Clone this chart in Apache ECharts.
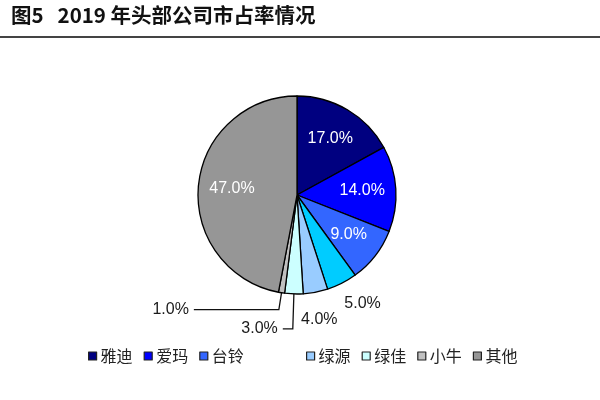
<!DOCTYPE html>
<html>
<head>
<meta charset="utf-8">
<script src="https://cdn.jsdelivr.net/npm/echarts@6/dist/echarts.min.js"></script>
<style>
  html, body { margin: 0; padding: 0; background: #fff; }
  #main { width: 600px; height: 400px; }
</style>
</head>
<body>
<div id="main"></div>
<script>
// 品牌 / 市占率(%)
var brands = ['雅迪', '爱玛', '台铃', '新日', '绿源', '绿佳', '小牛', '其他'];
var shares = [17, 14, 9, 5, 4, 3, 1, 47];
var colors = ['#000080', '#0000FF', '#3366FF', '#00CCFF', '#99CCFF', '#CCFFFF', '#C0C0C0', '#969696'];
var legendLeft = ['雅迪', '爱玛', '台铃'];
var legendRight = ['绿源', '绿佳', '小牛', '其他'];

var bigLimit = 9;  // 大于等于它的扇区标签放在里面
var center = ['297', '195'];
var R = 99;

// 小扇区外部标签的引线: [length, length2, 是否显示]
var lineLen = { '新日': [14, 0, false], '绿源': [24, 0, false], '绿佳': [35, 10, true], '小牛': [17, 85, true] };
// 外部标签的微调
var labelShift = { '新日': [-9, 8], '绿源': [-24, 4] };

var chart = echarts.init(document.getElementById('main'));

var pieData = [];
var labelData = [];
for (var i = 0; i < brands.length; i++) {
    var big = shares[i] >= bigLimit;
    var ll = lineLen[brands[i]] || [10, 0, false];
    pieData.push({
        name: brands[i],
        value: shares[i],
        itemStyle: { color: colors[i] },
        label: { show: !big },
        labelLine: { show: ll[2], length: ll[0], length2: ll[1] }
    });
    labelData.push({
        name: brands[i],
        value: shares[i],
        label: { show: big }
    });
}

var option = {
    backgroundColor: '#fff',
    animation: false,
    title: {
        text: '图5   2019 年头部公司市占率情况',
        left: 11,
        top: 5,
        padding: 0,
        textStyle: { fontFamily: 'Noto Sans CJK SC', fontWeight: 'bold', fontSize: 20.5, color: '#111' }
    },
    graphic: [{
        type: 'line',
        shape: { x1: 0, y1: 37, x2: 600, y2: 37 },
        style: { stroke: '#444', lineWidth: 2 }
    }],
    legend: [{
        data: legendLeft,
        left: 88, top: 348, padding: 0,
        icon: 'rect', itemWidth: 8, itemHeight: 8, itemGap: 11,
        itemStyle: { borderColor: '#222', borderWidth: 1.2 },
        textStyle: { fontFamily: 'Noto Sans CJK SC', fontSize: 16, color: '#222', padding: [0, 0, 0, -1] }
    }, {
        data: legendRight,
        left: 306, top: 348, padding: 0,
        icon: 'rect', itemWidth: 8, itemHeight: 8, itemGap: 11,
        itemStyle: { borderColor: '#222', borderWidth: 1.2 },
        textStyle: { fontFamily: 'Noto Sans CJK SC', fontSize: 16, color: '#222', padding: [0, 0, 0, -1] }
    }],
    series: [{
        type: 'pie',
        center: center,
        radius: R,
        startAngle: 90,
        clockwise: true,
        avoidLabelOverlap: false,
        itemStyle: { borderColor: '#000', borderWidth: 1.3 },
        label: {
            position: 'outside',
            formatter: function (p) { return p.value.toFixed(1) + '%'; },
            fontFamily: 'Liberation Sans', fontSize: 16, color: '#1a1a1a'
        },
        labelLine: { lineStyle: { color: '#111', width: 1.3 } },
        labelLayout: function (p) {
            var s = labelShift[brands[p.dataIndex]];
            if (s) return { dx: s[0], dy: s[1] };
            return {};
        },
        emphasis: { disabled: true },
        data: pieData
    }, {
        // 内部标签层
        type: 'pie',
        center: center,
        radius: R * 1.26,
        startAngle: 90,
        clockwise: true,
        silent: true,
        itemStyle: { color: 'rgba(0,0,0,0)', borderWidth: 0 },
        label: {
            position: 'inside',
            formatter: function (p) { return p.value.toFixed(1) + '%'; },
            fontFamily: 'Liberation Sans', fontSize: 16, color: '#fff'
        },
        labelLine: { show: false },
        emphasis: { disabled: true },
        data: labelData
    }]
};
chart.setOption(option);
</script>
</body>
</html>
